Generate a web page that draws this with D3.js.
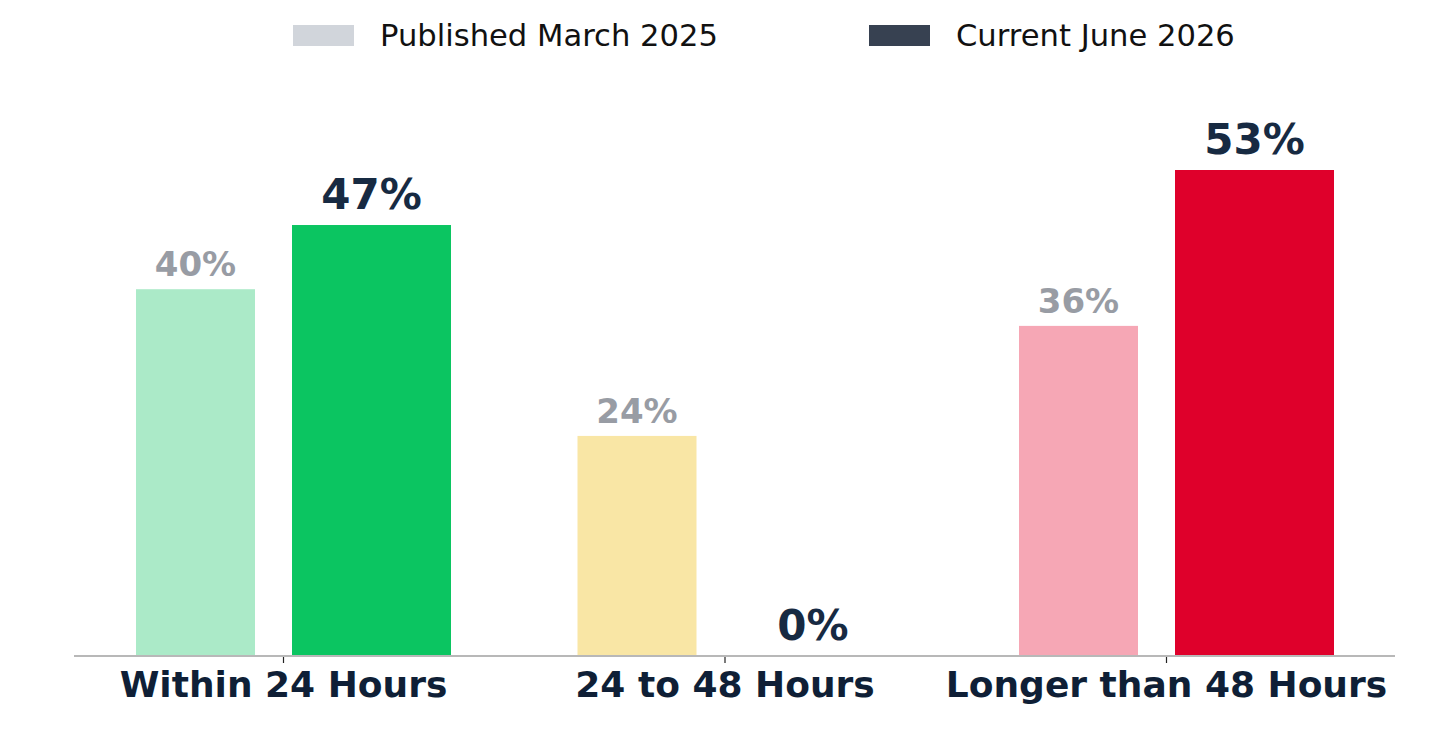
<!DOCTYPE html>
<html><head><meta charset="utf-8">
<script src="https://cdn.jsdelivr.net/npm/d3@7/dist/d3.min.js"></script>
<style>html,body{margin:0;padding:0;background:#fff;}svg{display:block;}</style>
</head><body>
<svg id="chart" width="1436" height="736"></svg>
<script>
const categories = ["Within 24 Hours", "24 to 48 Hours", "Longer than 48 Hours"];
const published = [40, 24, 36];
const current = [47, 0, 53];
const seriesNames = ["Published March 2025", "Current June 2026"];
const lightColors = ["#abeac8", "#f9e6a5", "#f6a7b5"];
const darkColors = ["#0bc561", "#f2c230", "#df002b"];
const legendColors = ["#d1d5db", "#374151"];

const svg = d3.select("#chart");
const font = "'DejaVu Sans', sans-serif";

const x = d3.scaleBand().domain(categories).range([62.75, 1387.25]).padding(0);
const y = d3.scaleLinear().domain([0, 53]).range([656, 170]);
const sub = d3.scaleOrdinal().domain(["pub", "cur"]).range([-88, 88]);
const widths = {pub: 119, cur: 159};

const data = categories.map((c, i) => ({c, i, pub: published[i], cur: current[i]}));

// bars
const g = svg.append("g");
["pub", "cur"].forEach(k => {
  g.selectAll("rect." + k).data(data).enter().append("rect")
    .attr("class", k)
    .attr("x", d => x(d.c) + x.bandwidth() / 2 + sub(k) - widths[k] / 2)
    .attr("width", widths[k])
    .attr("y", d => y(d[k]))
    .attr("height", d => y(0) - y(d[k]))
    .attr("fill", d => k === "pub" ? lightColors[d.i] : darkColors[d.i]);
});

// value labels
g.selectAll("text.publ").data(data).enter().append("text")
  .attr("x", d => x(d.c) + x.bandwidth() / 2 + sub("pub"))
  .attr("y", d => y(d.pub) - 13)
  .attr("text-anchor", "middle")
  .attr("font-family", font).attr("font-weight", "bold").attr("font-size", 34)
  .attr("fill", "#989ca4")
  .text(d => d.pub + "%");
g.selectAll("text.curl").data(data).enter().append("text")
  .attr("x", d => x(d.c) + x.bandwidth() / 2 + sub("cur"))
  .attr("y", d => y(d.cur) - 16)
  .attr("text-anchor", "middle")
  .attr("font-family", font).attr("font-weight", "bold").attr("font-size", 42)
  .attr("fill", "#172a42")
  .text(d => d.cur + "%");

// axis
svg.append("line").attr("x1", 74).attr("x2", 1395).attr("y1", y(0)).attr("y2", y(0))
  .attr("stroke", "#b8b8b8").attr("stroke-width", 2);
const axis = svg.append("g").attr("transform", `translate(0,${y(0) + 1})`)
  .call(d3.axisBottom(x).tickSize(6).tickPadding(8));
axis.select(".domain").remove();
axis.selectAll(".tick line").attr("stroke", "#222").attr("stroke-width", 1.2);
axis.selectAll(".tick text")
  .attr("font-family", font).attr("font-weight", "bold").attr("font-size", 36)
  .attr("fill", "#0f1f36").attr("dy", "0.71em");

// legend
const legend = svg.append("g");
const legX = [293, 869];
seriesNames.forEach((s, i) => {
  legend.append("rect").attr("x", legX[i]).attr("y", 25).attr("width", 61).attr("height", 21)
    .attr("fill", legendColors[i]);
  legend.append("text").attr("x", legX[i] + 87).attr("y", 46)
    .attr("font-family", font).attr("font-size", 30.6).attr("fill", "#111")
    .text(s);
});
</script>
</body></html>
